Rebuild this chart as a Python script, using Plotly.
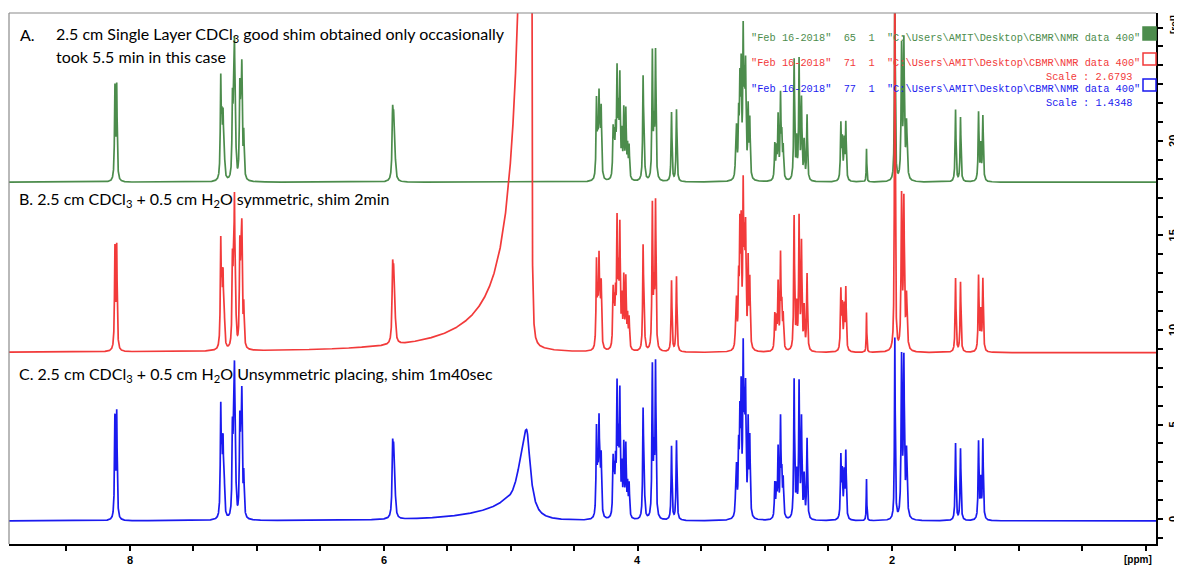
import numpy as np
import plotly.graph_objects as go

# ---------------- data ----------------
# line positions (ppm) shared by the three spectra
line_ppm = [8.116, 8.102,
            7.283, 7.274, 7.265, 7.256,
            7.191, 7.183, 7.175, 7.166,
            7.133, 7.125, 7.117, 7.102,
            5.930, 5.922, 5.912,
            4.325, 4.315, 4.305, 4.297, 4.288,
            4.194, 4.185, 4.175, 4.163, 4.152, 4.141, 4.125, 4.110, 4.094, 4.080, 4.068,
            3.958, 3.950,
            3.885, 3.872, 3.860,
            3.734, 3.695,
            3.228, 3.222, 3.206, 3.196, 3.186, 3.170, 3.160, 3.151, 3.131, 3.118,
            2.921, 2.908, 2.895, 2.876, 2.866, 2.855,
            2.769, 2.750, 2.730, 2.711, 2.690, 2.667,
            2.401, 2.390, 2.375, 2.362,
            2.199,
            1.976,
            1.923, 1.905, 1.884,
            1.498, 1.459,
            1.317, 1.300, 1.283]
# half width at half height of each line (ppm)
line_hwhm = [0.0040, 0.0040,
             0.0040, 0.0040, 0.0040, 0.0040,
             0.0040, 0.0040, 0.0040, 0.0040,
             0.0040, 0.0040, 0.0040, 0.0040,
             0.0050, 0.0050, 0.0060,
             0.0040, 0.0040, 0.0040, 0.0040, 0.0040,
             0.0040, 0.0040, 0.0040, 0.0040, 0.0040, 0.0040, 0.0040, 0.0040, 0.0040, 0.0040, 0.0040,
             0.0040, 0.0040,
             0.0040, 0.0040, 0.0040,
             0.0040, 0.0040,
             0.0040, 0.0040, 0.0040, 0.0040, 0.0040, 0.0040, 0.0040, 0.0040, 0.0040, 0.0040,
             0.0040, 0.0040, 0.0040, 0.0040, 0.0040, 0.0040,
             0.0040, 0.0040, 0.0040, 0.0040, 0.0040, 0.0040,
             0.0040, 0.0040, 0.0040, 0.0040,
             0.0025,
             0.0035,
             0.0045, 0.0045, 0.0055,
             0.0040, 0.0040,
             0.0040, 0.0040, 0.0040]
green_h = [4.85, 4.90,
           5.10, 2.60, 2.97, 1.60,
           3.90, 2.80, 6.50, 1.80,
           4.40, 3.00, 5.40, 2.30,
           3.20, 2.60, 1.20,
           4.03, 2.00, 3.94, 1.90, 3.50,
           2.45, 1.90, 2.20, 5.38, 3.00, 5.10, 2.20, 3.50, 3.50, 1.60, 1.70,
           5.20, 2.00,
           6.65, 2.50, 6.65,
           3.65, 3.80,
           1.50, 2.20, 3.00, 4.52, 5.40, 7.20, 4.00, 5.40, 3.60, 3.00,
           1.85, 1.50, 3.26, 4.30, 2.00, 1.60,
           6.35, 2.00, 6.25, 4.15, 2.00, 3.45,
           2.90, 2.00, 2.00, 3.00,
           1.75,
           11.0,
           6.95, 7.15, 2.95,
           3.80, 3.40,
           3.60, 1.80, 3.40]
red_h = [5.30, 5.37,
         5.37, 2.90, 3.35, 1.80,
         4.23, 3.00, 7.10, 2.00,
         4.93, 3.20, 5.85, 2.10,
         3.50, 2.90, 1.40,
         4.45, 2.10, 4.30, 2.00, 3.20,
         2.90, 2.00, 2.40, 6.35, 3.30, 6.10, 2.40, 3.60, 3.60, 1.60, 1.60,
         5.25, 2.00,
         7.55, 2.80, 7.65,
         3.75, 3.97,
         1.50, 2.05, 3.20, 5.70, 5.90, 7.90, 4.50, 5.70, 4.50, 3.50,
         1.85, 1.50, 3.40, 4.85, 2.00, 1.70,
         7.05, 2.20, 6.90, 5.55, 2.20, 4.05,
         3.10, 2.20, 2.20, 3.25,
         2.10,
         21.0,
         7.95, 7.70, 2.80,
         3.90, 3.70,
         3.97, 2.00, 3.80]
blue_h = [5.25, 5.50,
          5.55, 3.00, 3.50, 1.90,
          4.30, 3.10, 7.15, 2.00,
          4.60, 3.30, 5.95, 2.15,
          3.30, 2.80, 1.30,
          4.54, 2.10, 4.63, 2.00, 3.00,
          2.87, 2.00, 2.40, 6.49, 3.40, 6.22, 2.40, 3.66, 3.66, 1.60, 1.72,
          5.48, 2.20,
          7.89, 2.90, 8.02,
          3.90, 4.20,
          1.50, 2.16, 3.30, 4.63, 6.13, 8.16, 4.60, 6.04, 4.81, 4.00,
          1.81, 1.50, 3.57, 5.07, 2.00, 1.90,
          7.31, 2.20, 7.05, 5.16, 2.20, 4.23,
          3.22, 2.30, 2.30, 3.49,
          2.20,
          9.6,
          8.34, 8.16, 3.50,
          4.07, 3.79,
          4.10, 2.00, 4.20]

# broad water signals: centre, height, half-width towards high ppm, towards low ppm
red_water_ppm = [4.840, 4.840, 5.00]
red_water_h = [50.0, 14.0, 0.8]
red_water_wl = [0.050, 0.120, 0.45]
red_water_wr = [0.003, 0.004, 0.15]
blue_water_ppm = [4.876, 5.05]
blue_water_h = [4.8, 0.45]
blue_water_wl = [0.072, 0.35]
blue_water_wr = [0.036, 0.05]

# vertical offsets of the stacked spectra
offsets = {"A": 17.82, "B": 8.80, "C": -0.10}

x_ticks = [8, 6, 4, 2]
y_ticks = [0, 5, 10, 15, 20]

legend_lines = ['"Feb 16-2018"  65  1  "C:\\Users\\AMIT\\Desktop\\CBMR\\NMR data 400"',
                '"Feb 16-2018"  71  1  "C:\\Users\\AMIT\\Desktop\\CBMR\\NMR data 400"',
                '"Feb 16-2018"  77  1  "C:\\Users\\AMIT\\Desktop\\CBMR\\NMR data 400"']
scale_texts = ["Scale : 2.6793", "Scale : 1.4348"]

# ---------------- build spectra ----------------
grid = np.linspace(-0.1, 9.0, 26000)
ppm = np.unique(np.concatenate([grid, np.array(line_ppm), np.array(red_water_ppm),
                                np.array(blue_water_ppm)]))[::-1]


def lines_sum(x, centers, heights, widths):
    y = np.zeros_like(x)
    for c, h, w in zip(centers, heights, widths):
        y += h * w * w / (w * w + (x - c) ** 2)
    return y


def split_sum(x, centers, heights, wl, wr):
    y = np.zeros_like(x)
    for c, h, a, b in zip(centers, heights, wl, wr):
        w = np.where(x >= c, a, b)
        y += h * w * w / (w * w + (x - c) ** 2)
    return y


spec_A = offsets["A"] + lines_sum(ppm, line_ppm, green_h, line_hwhm)
spec_B = offsets["B"] + lines_sum(ppm, line_ppm, red_h, line_hwhm) + \
    split_sum(ppm, red_water_ppm, red_water_h, red_water_wl, red_water_wr)
spec_C = offsets["C"] + lines_sum(ppm, line_ppm, blue_h, line_hwhm) + \
    split_sum(ppm, blue_water_ppm, blue_water_h, blue_water_wl, blue_water_wr)

GREEN = "#4c8c4c"
RED = "#f23a3a"
BLUE = "#1a1aef"

fig = go.Figure()
for y, col in [(spec_A, GREEN), (spec_B, RED), (spec_C, BLUE)]:
    fig.add_trace(go.Scatter(x=ppm, y=y, mode="lines", line=dict(color=col, width=1.7),
                             hoverinfo="skip", showlegend=False))

# ---------------- layout ----------------
# The page body has an 8 px default margin, so the figure is placed at (8, 8)
# in the browser window; all screen coordinates below are converted.
OFF = 8
W, H = 1182 - OFF, 567 - OFF
L, T = 9 - OFF, 13 - OFF          # plot area left/top (screen 9 / 13)
R = W - (1156 - OFF)             # plot area right at screen x = 1156
B = H - (544 - OFF)              # plot area bottom at screen y = 544
pw, ph = W - L - R, H - T - B


def px(x):
    return (x - OFF - L) / pw


def py(y):
    return (H - B - (y - OFF)) / ph


tick_font = dict(family="Liberation Sans", size=11, color="black", weight="bold")

fig.update_layout(
    width=W, height=H,
    margin=dict(l=L, r=R, t=T, b=B, autoexpand=False),
    plot_bgcolor="white", paper_bgcolor="white",
    showlegend=False,
    xaxis=dict(range=[8.95, -0.08], showgrid=False, zeroline=False,
               showline=True, linecolor="black", linewidth=1.5,
               ticks="outside", ticklen=5, tickwidth=1.5, tickcolor="black",
               tickvals=x_ticks, showticklabels=False, automargin=False,
               minor=dict(dtick=0.5, tick0=0, ticks="outside", ticklen=5, tickwidth=1.5,
                          tickcolor="black", showgrid=False)),
    yaxis=dict(range=[-1.32, 26.77], side="right", showgrid=False, zeroline=False,
               showline=True, linecolor="black", linewidth=1.5,
               ticks="outside", ticklen=5, tickwidth=1.5, tickcolor="black",
               tickvals=y_ticks, showticklabels=False, automargin=False,
               minor=dict(dtick=1, tick0=0, ticks="outside", ticklen=5, tickwidth=1.5,
                          tickcolor="black", showgrid=False)),
)

# x tick labels
for v in x_ticks:
    fig.add_annotation(xref="x", yref="paper", x=v, y=py(560), xanchor="center",
                       yanchor="middle", showarrow=False, text=str(v), font=tick_font)
# y tick labels (rotated, right of the axis)
for v in y_ticks:
    fig.add_annotation(xref="paper", yref="y", x=px(1173), y=v, xanchor="center",
                       yanchor="middle", showarrow=False, text=str(v), textangle=-90,
                       font=tick_font)

# frame lines (top and left, gray)
fig.add_shape(type="line", xref="paper", yref="paper", x0=0, x1=1, y0=1, y1=1,
              line=dict(color="#8a8a8a", width=1.2))
fig.add_shape(type="line", xref="paper", yref="paper", x0=0, x1=0, y0=0, y1=1,
              line=dict(color="#8a8a8a", width=1.2))

# legend boxes
box_y = [(27, 40), (53, 65), (79, 91)]
for (y0, y1), col, filled in zip(box_y, [GREEN, RED, BLUE], [True, False, False]):
    fig.add_shape(type="rect", xref="paper", yref="paper",
                  x0=px(1143), x1=px(1156), y0=py(y1), y1=py(y0),
                  line=dict(color=col, width=1.5),
                  fillcolor=col if filled else "rgba(0,0,0,0)")

mono = dict(family="Liberation Mono", size=10.3)
for txt, col, yy in zip(legend_lines, [GREEN, RED, BLUE], [38, 63, 89]):
    fig.add_annotation(xref="paper", yref="paper", x=px(1142), y=py(yy), xanchor="right",
                       yanchor="middle", showarrow=False, text=txt.replace(" ", "\u00a0"),
                       font=dict(color=col, **mono))
for txt, col, yy in zip(scale_texts, [RED, BLUE], [77, 103]):
    fig.add_annotation(xref="paper", yref="paper", x=px(1135), y=py(yy), xanchor="right",
                       yanchor="middle", showarrow=False, text=txt.replace(" ", "\u00a0"),
                       font=dict(color=col, **mono))

# sample labels
lab_font = dict(family="Lato", size=16, color="black")
labels = [
    (18, 35, "A."),
    (54, 35, "2.5 cm Single Layer CDCl<sub>3</sub> good shim obtained only occasionally"),
    (54, 57, "took 5.5 min in this case"),
    (17, 199, "B. 2.5 cm CDCl<sub>3</sub> + 0.5 cm H<sub>2</sub>O symmetric, shim 2min"),
    (17, 374, "C. 2.5 cm CDCl<sub>3</sub> + 0.5 cm H<sub>2</sub>O Unsymmetric placing, shim 1m40sec"),
]
for xx, yy, txt in labels:
    fig.add_annotation(xref="paper", yref="paper", x=px(xx), y=py(yy), xanchor="left",
                       yanchor="middle", showarrow=False, text=txt, font=lab_font)

# axis unit labels
fig.add_annotation(xref="paper", yref="paper", x=px(1138), y=py(559), xanchor="center",
                   yanchor="middle", showarrow=False, text="[ppm]",
                   font=dict(family="Liberation Sans", size=10, color="black", weight="bold"))
fig.add_annotation(xref="paper", yref="paper", x=px(1174), y=py(25), xanchor="center",
                   yanchor="middle", showarrow=False, text="[rel]", textangle=-90,
                   font=dict(family="Liberation Sans", size=10, color="black", weight="bold"))

fig.write_html("out.html")
